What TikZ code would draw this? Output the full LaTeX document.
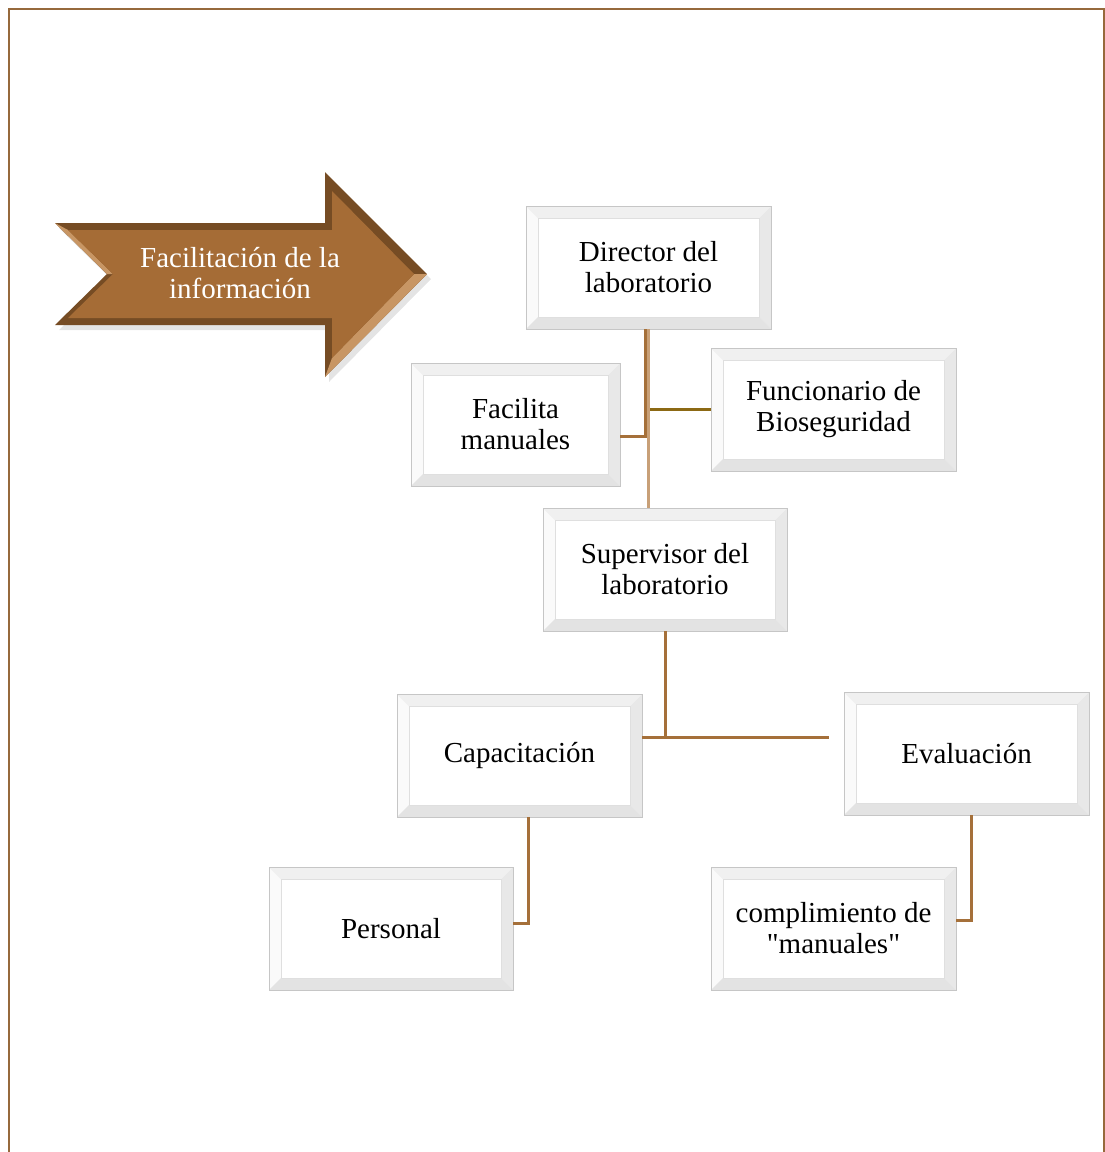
\documentclass[tikz,border=0pt]{standalone}
\usepackage{fontspec}
\setmainfont{Liberation Serif}[Ligatures=TeXOff]
\definecolor{brw}{RGB}{165,112,58}
\definecolor{brwdark}{RGB}{118,76,36}
\definecolor{brwfill}{RGB}{165,108,54}
\definecolor{brwhi}{RGB}{200,150,100}
\definecolor{frm}{RGB}{150,105,60}
\definecolor{oliv}{RGB}{140,105,20}
\definecolor{brwlight}{RGB}{200,160,120}
\begin{document}
\begin{tikzpicture}[x=1pt,y=-1pt,
  bev/.style={minimum width=#1, minimum height=123pt, inner sep=0pt, outer sep=0pt,
    draw=gray!45, fill=gray!10, align=center, font=\fontsize{29}{31}\selectfont,
    path picture={
      \fill[gray!4] (path picture bounding box.north west) -- ([shift={(12pt,-12pt)}]path picture bounding box.north west) -- ([shift={(12pt,12pt)}]path picture bounding box.south west) -- (path picture bounding box.south west) -- cycle;
      \fill[gray!18] (path picture bounding box.north east) -- ([shift={(-12pt,-12pt)}]path picture bounding box.north east) -- ([shift={(-12pt,12pt)}]path picture bounding box.south east) -- (path picture bounding box.south east) -- cycle;
      \fill[gray!22] (path picture bounding box.south west) -- ([shift={(12pt,12pt)}]path picture bounding box.south west) -- ([shift={(-12pt,12pt)}]path picture bounding box.south east) -- (path picture bounding box.south east) -- cycle;
      \fill[gray!12] (path picture bounding box.north west) -- ([shift={(12pt,-12pt)}]path picture bounding box.north west) -- ([shift={(-12pt,-12pt)}]path picture bounding box.north east) -- (path picture bounding box.north east) -- cycle;
      \draw[gray!25, fill=white] ([shift={(12pt,12pt)}]path picture bounding box.south west) rectangle ([shift={(-12pt,-12pt)}]path picture bounding box.north east);
    }},
  bev/.default=245pt,
  conn/.style={brw, line width=3pt},
  lightconn/.style={brwlight, line width=3pt},
  olconn/.style={oliv, line width=2.5pt}
]
\useasboundingbox (0,0) rectangle (1105,1152);
% frame
\draw[frm, line width=2pt] (9,1160) -- (9,9) -- (1104,9) -- (1104,1160);

% arrow
\fill[black!35, opacity=0.3] (59,228) -- (329,228) -- (329,177) -- (431,279) -- (329,382) -- (329,330) -- (59,330) -- (111,279) -- cycle;
\fill[brwdark] (55,223) -- (325,223) -- (325,172) -- (427,274) -- (325,377) -- (325,325) -- (55,325) -- (107,274) -- cycle;
\fill[brwhi] (325,377) -- (332,358) -- (414,274) -- (427,274) -- cycle;
\fill[brwhi] (55,223) -- (68,230) -- (113,274) -- (107,274) -- cycle;
\fill[brwfill] (68,230) -- (332,230) -- (332,191) -- (414,274) -- (332,358) -- (332,318) -- (68,318) -- (113,274) -- cycle;
\node[text=white, align=center, font=\fontsize{29}{31}\selectfont] (arr) at (240,273) {Facilitación de la\\información};

% boxes
\node[bev] (dir) at (648.5,267.5) {Director del\\laboratorio};
\node[bev=209pt] (fac) at (515.5,424.5) {Facilita\\manuales};
\node[bev] (fun) at (833.5,409.5) {Funcionario de\\Bioseguridad};
\node[bev=244pt] (sup) at (665,569.5) {Supervisor del\\laboratorio};
\node[bev] (cap) at (519.5,755.5) {Capacitación};
\node[bev] (eva) at (966.5,753.5) {Evaluación};
\node[bev=244pt] (per) at (391,928.5) {Personal};
\node[bev] (com) at (833.5,928.5) {complimiento de\\"manuales"};

% connectors
\draw[lightconn] ([xshift=0pt]dir.south) -- (dir.south |- sup.north);
\draw[conn] ([xshift=-3pt]dir.south) |- ([yshift=-11.5pt]fac.east);
\draw[olconn] ([xshift=1.5pt]dir.south |- fun.west) -- (fun.west);
\coordinate (j) at (665,737);
\draw[conn] (sup.south) -- (j);
\draw[conn] (cap.east |- j) -- (j) -- ([xshift=-15pt]eva.west |- j);
\draw[conn] ([xshift=8.5pt]cap.south) |- ([yshift=5.5pt]per.east);
\draw[conn] ([xshift=4.5pt]eva.south) |- ([yshift=8.5pt]com.east);
\end{tikzpicture}
\end{document}
